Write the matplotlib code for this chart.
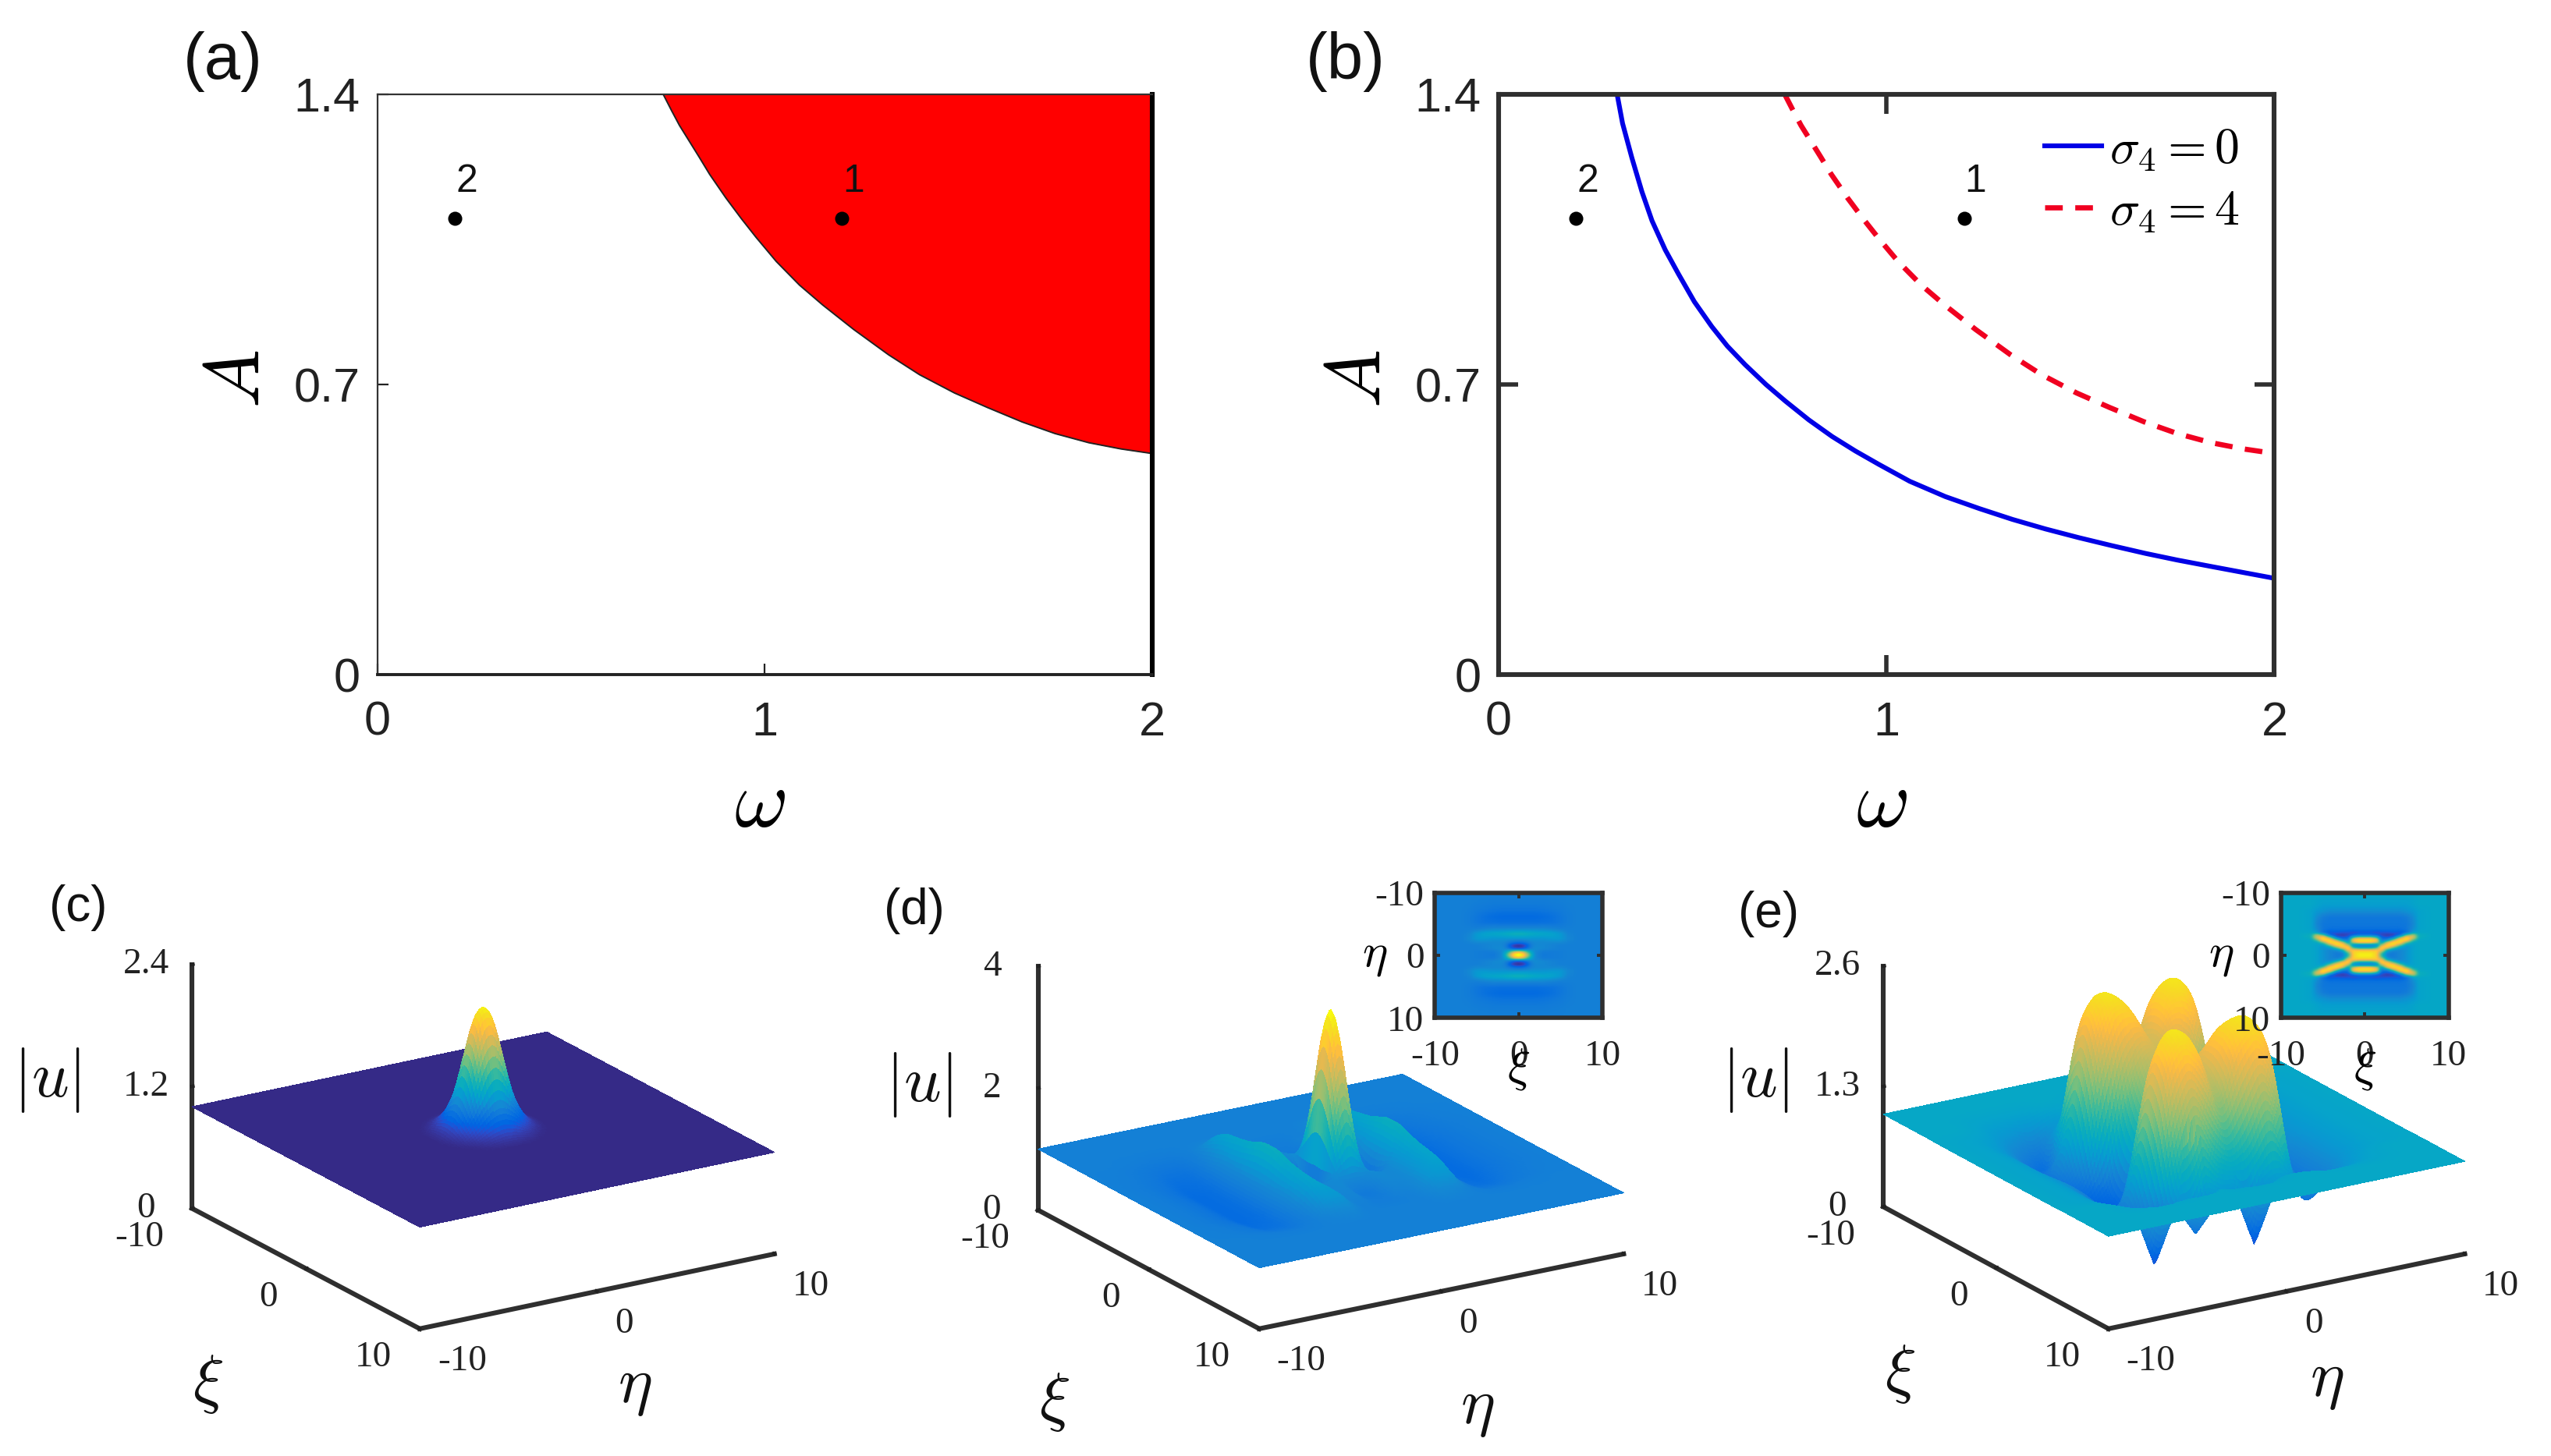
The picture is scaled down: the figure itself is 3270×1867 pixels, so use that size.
import numpy as np
import matplotlib
matplotlib.use('Agg')
import matplotlib.pyplot as plt
from matplotlib.colors import LinearSegmentedColormap
from mpl_toolkits.mplot3d import proj3d

W, H, DPI = 3270, 1867, 200
SHRINK = 3270 / 1568

# ---------- panel (a) / (b) data ----------
omega_red = [0.738, 0.76, 0.78, 0.80, 0.83, 0.858, 0.90, 0.94, 0.978, 1.03, 1.09, 1.15, 1.23, 1.32, 1.40, 1.49, 1.575, 1.665, 1.75, 1.837, 1.92, 2.0]
A_red = [1.40, 1.36, 1.325, 1.295, 1.25, 1.207, 1.15, 1.10, 1.055, 0.997, 0.94, 0.892, 0.833, 0.772, 0.724, 0.68, 0.645, 0.61, 0.582, 0.56, 0.545, 0.534]
omega_blue = [0.306, 0.32, 0.344, 0.37, 0.396, 0.43, 0.464, 0.505, 0.55, 0.59, 0.636, 0.69, 0.74, 0.80, 0.86, 0.92, 0.98, 1.06, 1.152, 1.24, 1.325, 1.41, 1.496, 1.58, 1.668, 1.75, 1.84, 1.92, 2.0]
A_blue = [1.40, 1.33, 1.247, 1.165, 1.095, 1.025, 0.967, 0.90, 0.84, 0.793, 0.748, 0.70, 0.66, 0.615, 0.575, 0.54, 0.508, 0.467, 0.43, 0.401, 0.375, 0.352, 0.331, 0.312, 0.293, 0.277, 0.261, 0.247, 0.233]
point_omega = [1.2, 0.2]
point_A = [1.1, 1.1]
point_names = ['1', '2']
ab_xticks = [0, 1, 2]
ab_yticks = [0, 0.7, 1.4]
ab_yticklabels = ['0', '0.7', '1.4']

# ---------- parula ----------
parula = [[0.2081,0.1663,0.5292],[0.2116,0.1898,0.5777],[0.2123,0.2138,0.6270],[0.2081,0.2386,0.6771],[0.1959,0.2645,0.7279],[0.1707,0.2919,0.7792],[0.1253,0.3242,0.8303],[0.0591,0.3598,0.8683],[0.0117,0.3875,0.8820],[0.0060,0.4086,0.8828],[0.0165,0.4266,0.8786],[0.0329,0.4430,0.8720],[0.0498,0.4586,0.8641],[0.0629,0.4737,0.8554],[0.0723,0.4887,0.8467],[0.0779,0.5040,0.8384],[0.0793,0.5200,0.8312],[0.0749,0.5375,0.8263],[0.0641,0.5570,0.8240],[0.0488,0.5772,0.8228],[0.0343,0.5966,0.8199],[0.0265,0.6137,0.8135],[0.0239,0.6287,0.8038],[0.0231,0.6418,0.7913],[0.0228,0.6535,0.7768],[0.0267,0.6642,0.7607],[0.0384,0.6743,0.7436],[0.0590,0.6838,0.7254],[0.0843,0.6928,0.7062],[0.1133,0.7015,0.6859],[0.1453,0.7098,0.6646],[0.1801,0.7177,0.6424],[0.2178,0.7250,0.6193],[0.2586,0.7317,0.5954],[0.3022,0.7376,0.5712],[0.3482,0.7424,0.5473],[0.3953,0.7459,0.5244],[0.4420,0.7481,0.5033],[0.4871,0.7491,0.4840],[0.5300,0.7491,0.4661],[0.5709,0.7485,0.4494],[0.6099,0.7473,0.4337],[0.6473,0.7456,0.4188],[0.6834,0.7435,0.4044],[0.7184,0.7411,0.3905],[0.7525,0.7384,0.3768],[0.7858,0.7356,0.3633],[0.8185,0.7327,0.3498],[0.8507,0.7299,0.3360],[0.8824,0.7274,0.3217],[0.9139,0.7258,0.3063],[0.9450,0.7261,0.2886],[0.9739,0.7314,0.2666],[0.9938,0.7455,0.2403],[0.9990,0.7653,0.2164],[0.9955,0.7861,0.1967],[0.9880,0.8066,0.1794],[0.9789,0.8271,0.1633],[0.9697,0.8481,0.1475],[0.9626,0.8705,0.1309],[0.9589,0.8949,0.1132],[0.9598,0.9218,0.0948],[0.9661,0.9514,0.0755],[0.9763,0.9831,0.0538]]

# ---------- surfaces: one quadrant (|xi|, |eta|) of |u| ----------
c_radius = [0, 0.5, 1.0, 1.4, 1.8, 2.2, 2.6, 3.0, 15]
c_height = [2.26, 2.1, 1.68, 1.34, 1.17, 1.07, 1.02, 1.0, 1.0]

d_xi = [0, 0.5, 1, 1.5, 2, 3, 4, 5, 6, 7, 10]
d_eta = [0, 0.5, 1, 1.5, 2, 2.6, 3.4, 4.2, 5.2, 6.2, 7.2, 8.5, 10]
d_u = [
 [3.95,2.9,0.5,0.22,0.75,1.25,1.7,1.1,0.78,0.72,0.85,0.95,1],
 [3.6,2.7,0.55,0.3,0.8,1.25,1.7,1.1,0.78,0.72,0.85,0.95,1],
 [2.7,2.1,0.8,0.55,0.9,1.25,1.65,1.1,0.78,0.72,0.85,0.95,1],
 [1.8,1.5,1.05,0.95,1.05,1.25,1.6,1.1,0.78,0.72,0.85,0.95,1],
 [1.1,1.1,1.15,1.1,1.1,1.25,1.55,1.1,0.78,0.72,0.85,0.95,1],
 [0.9,0.95,1.1,1.1,1.1,1.25,1.5,1.1,0.8,0.75,0.87,0.95,1],
 [0.95,0.95,1.05,1.05,1.1,1.3,1.45,1.05,0.82,0.8,0.9,0.97,1],
 [0.97,0.97,1,1,1.1,1.3,1.3,1.0,0.88,0.88,0.93,0.98,1],
 [1,1,1,1,1.03,1.1,1.05,1,0.96,0.96,0.98,1,1],
 [1,1,1,1,1,1,1,1,1,1,1,1,1],
 [1,1,1,1,1,1,1,1,1,1,1,1,1],
]

e_xi = [0, 1, 2, 3, 4, 5, 6, 7, 8, 10]
e_eta = [0, 1, 2, 3, 4, 5, 6, 7, 8, 10]
e_u = [
 [1.85,1.75,1.2,0.35,0.4,0.6,0.75,0.85,0.95,1],
 [1.85,1.95,1.55,0.5,0.35,0.55,0.72,0.85,0.95,1],
 [1.85,2.3,2.35,1.85,0.6,0.5,0.7,0.85,0.95,1],
 [1.75,2.35,2.5,2.3,1.1,0.5,0.7,0.85,0.95,1],
 [1.55,2.2,2.4,2.1,0.6,0.5,0.7,0.85,0.95,1],
 [1.05,1.25,1.8,1.1,0.4,0.55,0.75,0.9,0.95,1],
 [0.85,0.75,0.85,0.75,0.6,0.75,0.85,0.95,1,1],
 [0.95,0.95,1,1,0.95,0.95,0.95,0.97,1,1],
 [1,1,1,1,1,1,1,1,1,1],
 [1,1,1,1,1,1,1,1,1,1],
]
# narrow pits of surface (e) that show below its front edge
pit_xi = [6.5, 6.5, 6.5]
pit_eta = [-5.2, -2.9, 0.4]
pit_u = [0.25, 0.5, 0.25]

# ---------- inset (e) grid ----------
ei_xi = [0, 0.7, 1.4, 2, 2.7, 3.4, 4.2, 5, 5.8, 6.5, 8, 10]
ei_eta = [0, 0.4, 0.8, 1.2, 1.6, 2, 2.4, 2.8, 3.2, 3.6, 4.2, 5, 6, 7, 8, 10]
ei_u = [
 [2.5,2.45,2.1,0.9,0.6,2.2,2.5,1.7,0.45,0.3,0.5,0.55,0.55,0.75,0.9,1],
 [2.5,2.45,2.1,0.9,0.6,2.2,2.5,1.7,0.45,0.3,0.5,0.55,0.55,0.75,0.9,1],
 [2.3,2.3,2.2,1.2,0.7,1.8,2.3,1.3,0.35,0.25,0.5,0.55,0.55,0.75,0.9,1],
 [1.2,1.5,2.2,2.4,1.7,0.9,0.6,0.4,0.2,0.3,0.5,0.55,0.55,0.75,0.9,1],
 [0.6,0.7,1.1,2.2,2.4,1.9,0.7,0.3,0.15,0.3,0.5,0.55,0.55,0.75,0.9,1],
 [0.6,0.6,0.8,1.5,2.4,2.4,1.6,0.5,0.15,0.35,0.5,0.55,0.55,0.75,0.9,1],
 [0.7,0.7,0.7,0.9,1.6,2.4,2.4,1.6,0.4,0.3,0.5,0.55,0.55,0.75,0.9,1],
 [0.8,0.8,0.8,0.8,0.9,1.5,2.4,2.4,1.4,0.45,0.55,0.55,0.6,0.8,0.9,1],
 [0.95,0.95,0.95,0.95,0.95,1,1.4,2.0,1.8,0.9,0.75,0.7,0.75,0.85,0.95,1],
 [1,1,1,1,1,1,1,1.1,1.1,1,0.95,0.95,0.95,0.95,1,1],
 [1,1,1,1,1,1,1,1,1,1,1,1,1,1,1,1],
 [1,1,1,1,1,1,1,1,1,1,1,1,1,1,1,1],
]

# axis ticks of the 3D panels
xi_ticks = [-10, 0, 10]
xi_ticklabels = ['-10', '0', '10']
z_ticks_c = [0, 1.2, 2.4]
z_labels_c = ['0', '1.2', '2.4']
z_ticks_d = [0, 2, 4]
z_labels_d = ['0', '2', '4']
z_ticks_e = [0, 1.3, 2.6]
z_labels_e = ['0', '1.3', '2.6']
color_range_c = (1.0, 2.22)
color_range_d = (0.2, 3.6)
color_range_e = (0.05, 2.55)

# ---------- set up ----------
plt.rcParams['mathtext.fontset'] = 'cm'
plt.rcParams['font.family'] = 'Liberation Sans'
SERIF = 'Liberation Serif'
DARK = '#2f2f2f'
cmap = LinearSegmentedColormap.from_list('parula', parula)
fig = plt.figure(figsize=(W / DPI, H / DPI), dpi=DPI, facecolor='white')


def box(x0, y0, x1, y1):
    """Figure-fraction rectangle from corners in shrunk-image pixels."""
    return [x0 * SHRINK / W, 1 - y1 * SHRINK / H, (x1 - x0) * SHRINK / W, (y1 - y0) * SHRINK / H]


def smooth(z, passes=1):
    k = np.array([1, 2, 3, 2, 1]) / 9.0
    for _ in range(passes):
        z = np.pad(z, 2, mode='edge')
        z = np.apply_along_axis(lambda r: np.convolve(r, k, mode='same'), 0, z)
        z = np.apply_along_axis(lambda r: np.convolve(r, k, mode='same'), 1, z)
        z = z[2:-2, 2:-2]
    return z


GRID = np.linspace(-10, 10, 161)


def resample(xi_nodes, eta_nodes, quad, passes=1):
    """Mirror the read quadrant and put it on the drawing mesh."""
    quad = np.asarray(quad, float)
    by_xi = np.array([np.interp(np.abs(GRID), eta_nodes, row) for row in quad])
    return smooth(np.array([np.interp(np.abs(GRID), xi_nodes, col) for col in by_xi.T]).T, passes)


def ab_axes(rect):
    ax = fig.add_axes(box(*rect))
    ax.set_xlim(0, 2)
    ax.set_ylim(0, 1.4)
    ax.set_xticks(ab_xticks, [str(v) for v in ab_xticks])
    ax.set_yticks(ab_yticks, ab_yticklabels)
    ax.tick_params(axis='both', labelsize=22, labelcolor='#222222')
    ax.tick_params(axis='x', pad=12)
    ax.tick_params(axis='y', pad=8)
    ax.set_xlabel(r'$\omega$', fontsize=38, va='center')
    ax.set_ylabel(r'$A$', fontsize=36, va='center')
    ax.xaxis.set_label_coords(0.494, -0.224)
    ax.yaxis.set_label_coords(-0.179, 0.51)
    ax.plot(point_omega, point_A, 'o', color='black', ms=6.5, mew=0, ls='none', zorder=5)
    for name, w, a in zip(point_names, point_omega, point_A):
        ax.text(w + 0.03, a + 0.09, name, fontsize=18, ha='center', va='center', color='#111111', zorder=5)
    return ax


# ---------- (a) ----------
axa = ab_axes((232, 58, 708, 415))
axa.fill_between(omega_red, A_red, 1.4, color='#ff0000', lw=0)
axa.plot(omega_red, A_red, color='#222222', lw=0.7)
axa.tick_params(axis='both', direction='in', length=5, width=0.8, color='#222222')
for side, lw, col in [('left', 0.8, '#333333'), ('top', 0.8, '#333333'), ('bottom', 1.4, '#222222'), ('right', 2.2, 'black')]:
    axa.spines[side].set_linewidth(lw)
    axa.spines[side].set_color(col)

# ---------- (b) ----------
axb = ab_axes((921, 58, 1398, 415))
axb.plot(omega_blue, A_blue, color='#0000e6', lw=2.2, label=r'$\sigma_4=0$')
axb.plot(omega_red, A_red, color='#f00020', lw=2.4, ls=(0, (3.4, 2.4)), label=r'$\sigma_4=4$')
axb.tick_params(axis='both', direction='in', length=9, width=2.0, color=DARK, top=True, right=True)
for s in axb.spines.values():
    s.set_linewidth(2.2)
    s.set_color(DARK)
axb.legend(loc='upper right', bbox_to_anchor=(0.955, 0.945), frameon=False, fontsize=23, handlelength=1.15,
           handletextpad=0.15, labelspacing=0.3, borderaxespad=0, borderpad=0)


# ---------- 3D panels ----------
def surface_axes(L, F, R, T, U, zmax, zticks, zlabels, crange, labels_xy):
    L, F, R, T = [np.array([p[0] * SHRINK, H - p[1] * SHRINK]) for p in (L, F, R, T)]
    a, b = F - L
    c, d = R - F
    s2 = (d / c) * (-b / a)
    se = np.sqrt(s2)
    tanphi = (d / c) / se
    phi = np.arctan(tanphi)
    elev = np.degrees(np.arcsin(se))
    len_xi = a / np.sin(phi)
    len_eta = c / np.cos(phi)
    len_z = (T - L)[1] / np.cos(np.arcsin(se))

    side = 1000.0
    ax = fig.add_axes([0.3, 0.3, side / W, side / H], projection='3d')
    ax.set_proj_type('ortho')
    ax.view_init(elev=elev, azim=-np.degrees(phi))
    ax.set_xlim(-10, 10)
    ax.set_ylim(-10, 10)
    ax.set_zlim(0, zmax)
    ax.set_box_aspect((len_xi, len_eta, len_z))
    ax.apply_aspect()
    M = ax.get_proj()

    def to_px(x, y, z):
        xs, ys, _ = proj3d.proj_transform(x, y, z, M)
        return ax.transData.transform((xs, ys))

    pL = to_px(-10, -10, 0)
    pR = to_px(10, 10, 0)
    scale = np.linalg.norm(R - L) / np.linalg.norm(pR - pL)
    old = ax.get_position()
    cx, cy = (old.x0 + old.width / 2) * W, (old.y0 + old.height / 2) * H
    cen = np.array([cx, cy])
    new_side = side * scale
    new_cen = L - (pL - cen) * scale
    ax.set_position([(new_cen[0] - new_side / 2) / W, (new_cen[1] - new_side / 2) / H, new_side / W, new_side / H])
    ax.patch.set_alpha(0)

    Xg, Yg = np.meshgrid(GRID, GRID, indexing='ij')
    ax.plot_surface(Xg, Yg, U, cmap=cmap, vmin=crange[0], vmax=crange[1], rcount=161, ccount=161,
                    linewidth=0, antialiased=False, shade=False)
    ax.set_xlim(-10, 10)
    ax.set_ylim(-10, 10)
    ax.set_zlim(0, zmax)

    ax.set_xticks(xi_ticks, xi_ticklabels)
    ax.set_yticks(xi_ticks, xi_ticklabels)
    ax.set_zticks(zticks, zlabels)
    ax.grid(False)
    ax.zaxis.set_ticks_position('lower')
    ax.zaxis.set_label_position('lower')
    for axis in (ax.xaxis, ax.yaxis, ax.zaxis):
        axis.set_pane_color((1, 1, 1, 0))
        axis.pane.set_edgecolor((1, 1, 1, 0))
        axis.line.set_color(DARK)
        axis.line.set_linewidth(2.2)
        axis._axinfo['axisline']['linewidth'] = 2.2
        axis._axinfo['axisline']['color'] = DARK
        axis._axinfo['tick']['inward_factor'] = 0.0
        axis._axinfo['tick']['outward_factor'] = 0.035
        axis._axinfo['tick']['linewidth'] = {True: 1.6, False: 0.8}
        axis._axinfo['tick']['color'] = DARK
    align = {'x': 'right', 'y': 'left', 'z': 'center'}
    for name in 'xyz':
        ax.tick_params(axis=name, labelsize=17, pad=4, colors='#222222')
        for t in getattr(ax, f'get_{name}ticklabels')():
            t.set_fontfamily(SERIF)
            t.set_ha(align[name])
            t.set_va('center_baseline')
    for (txt, x, y, fs) in labels_xy:
        fig.text(x * SHRINK / W, 1 - y * SHRINK / H, txt, fontsize=fs, ha='center', va='center', color='#111111')
    return ax


U_c = np.array([[np.interp(np.hypot(x, y), c_radius, c_height) for y in GRID] for x in GRID])
U_c = smooth(U_c)
U_d = resample(d_xi, d_eta, d_u)
U_e = resample(e_xi, e_eta, e_u, passes=3)
for px, py, pu in zip(pit_xi, pit_eta, pit_u):
    dist = np.hypot(*np.meshgrid(GRID - px, GRID - py, indexing='ij'))
    U_e = np.minimum(U_e, np.interp(dist, [0, 0.9, 1.6], [pu, 0.8, 1.4], right=99.0))
UI_e = resample(ei_xi, ei_eta, ei_u)

surface_axes((118, 743), (258, 817), (476, 771), (118, 593), U_c, 2.4, z_ticks_c, z_labels_c, color_range_c,
             [(r'$\xi$', 128, 851, 30), (r'$\eta$', 390, 853, 30), (r'$|u|$', 29, 664, 30)])
surface_axes((638, 744), (774, 817), (998, 771), (638, 594), U_d, 4, z_ticks_d, z_labels_d, color_range_d,
             [(r'$\xi$', 648, 862, 30), (r'$\eta$', 908, 866, 30), (r'$|u|$', 565, 667, 30)])
surface_axes((1157.6, 742), (1296, 817), (1515, 771), (1157.6, 594), U_e, 2.6, z_ticks_e, z_labels_e, color_range_e,
             [(r'$\xi$', 1168, 845, 30), (r'$\eta$', 1430, 849, 30), (r'$|u|$', 1079, 664, 30)])


def inset(rect, U, crange):
    ax = fig.add_axes(box(*rect), zorder=10)
    ax.imshow(U.T, extent=(-10, 10, 10, -10), cmap=cmap, vmin=crange[0], vmax=crange[1], aspect='auto',
              interpolation='bilinear')
    ax.set_xticks(xi_ticks, xi_ticklabels, fontfamily=SERIF)
    ax.set_yticks(xi_ticks, xi_ticklabels, fontfamily=SERIF)
    ax.tick_params(axis='both', direction='in', length=2.5, width=1.4, color=DARK, top=True, right=True,
                   labelsize=17, labelcolor='#222222')
    ax.tick_params(axis='x', pad=10)
    ax.tick_params(axis='y', pad=5)
    for s in ax.spines.values():
        s.set_linewidth(2.0)
        s.set_color(DARK)
    ax.set_xlabel(r'$\xi$', fontsize=22, labelpad=-12)
    ax.set_ylabel(r'$\eta$', fontsize=22, rotation=0, va='center', labelpad=0)
    return ax


inset((882, 549, 985, 626), U_d, color_range_d)
inset((1402, 549, 1505, 626), UI_e, color_range_e)

# ---------- panel letters ----------
for txt, x, y, fs in [('(a)', 137, 38, 30), ('(b)', 827, 38, 30), ('(c)', 48, 558, 23), ('(d)', 562, 560, 23), ('(e)', 1087, 562, 23)]:
    fig.text(x * SHRINK / W, 1 - y * SHRINK / H, txt, fontsize=fs, ha='center', va='center', color='#111111')

fig.savefig('out.png', dpi=DPI, facecolor='white')
